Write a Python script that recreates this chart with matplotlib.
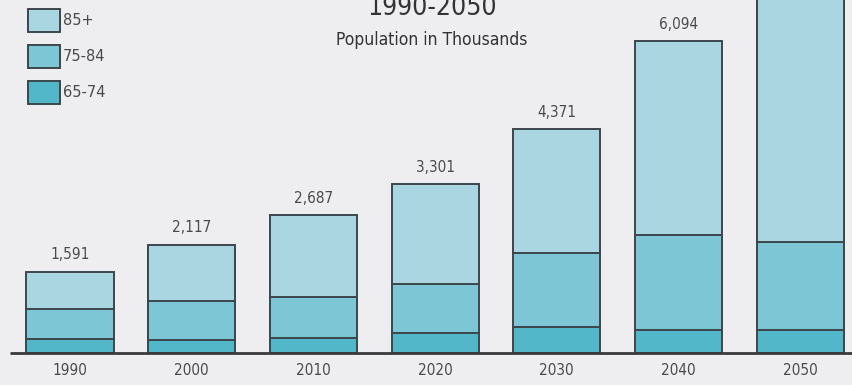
import matplotlib
matplotlib.use("Agg")
import matplotlib.pyplot as plt
from matplotlib.patches import Patch
import numpy as np

years = ["1990", "2000", "2010", "2020", "2030", "2040", "2050"]
age_65_74 = [273, 254, 293, 391, 508, 449, 449]
age_75_84 = [586, 762, 801, 957, 1445, 1855, 1719]
totals = [1591, 2117, 2687, 3301, 4371, 6094, 7700]
total_labels = ["1,591", "2,117", "2,687", "3,301", "4,371", "6,094", "7,700"]
age_85_plus = [t - a - b for t, a, b in zip(totals, age_65_74, age_75_84)]

title = "1990-2050"
subtitle = "Population in Thousands"
series_names = ["85+", "75-84", "65-74"]

col_85 = "#aad6e1"
col_75 = "#7cc6d6"
col_65 = "#52b7c9"
edge = "#3b474c"
bg = "#eeeef1"
txt = "#4a4a4a"

FONT = ["Liberation Sans Narrow", "DejaVu Sans"]
plt.rcParams["font.family"] = FONT

W, H = 852, 385
fig = plt.figure(figsize=(W / 100, H / 100), dpi=100, facecolor=bg)
base_px = 353  # baseline from top
ax = fig.add_axes([0, (H - base_px) / H, 1, base_px / H])
ax.set_facecolor(bg)

px_per_unit = 121.7
first_c = 70
ax.set_xlim(-first_c / px_per_unit, (W - first_c) / px_per_unit)
scale = 0.0512  # px per thousand
ymax = base_px / scale
ax.set_ylim(0, ymax)

x = np.arange(len(years))
w = 0.715
b1 = np.array(age_65_74)
b2 = b1 + np.array(age_75_84)
ax.bar(x, age_65_74, w, color=col_65, edgecolor=edge, linewidth=1.4, zorder=2)
ax.bar(x, age_75_84, w, bottom=b1, color=col_75, edgecolor=edge, linewidth=1.4, zorder=2)
ax.bar(x, age_85_plus, w, bottom=b2, color=col_85, edgecolor=edge, linewidth=1.4, zorder=2)

for xi, t, lab in zip(x, totals, total_labels):
    if t > ymax:
        continue  # label lies above the visible page, as in the source scan
    ax.annotate(lab, (xi, t), xytext=(0, 12.2), textcoords="offset points",
                ha="center", va="center", fontsize=11, color=txt,
                stretch="condensed", annotation_clip=False)

for xi, y in zip(x, years):
    ax.annotate(y, (xi, 0), xytext=(0, -12.5), textcoords="offset points",
                ha="center", va="center", fontsize=11, color=txt,
                stretch="condensed", annotation_clip=False)

ax.plot([-(first_c - 10) / px_per_unit, (W - first_c) / px_per_unit], [0, 0],
        color="#3a3a3a", lw=2, zorder=3, clip_on=False, solid_capstyle="butt")

for s in ax.spines.values():
    s.set_visible(False)
ax.set_xticks([])
ax.set_yticks([])

fig.text(432 / W, 1 - 8 / H, title, ha="center", va="center", fontsize=19,
         color="#333333", stretch="condensed")
fig.text(432 / W, 1 - 40 / H, subtitle, ha="center", va="center", fontsize=12.5,
         color="#333333", stretch="condensed")

handles = [Patch(facecolor=c, edgecolor=edge, linewidth=1.4) for c in (col_85, col_75, col_65)]
fs = 10.5
leg = fig.legend(handles, series_names, loc="upper left",
                 bbox_to_anchor=(28 / W, 1 - 9 / H), frameon=False,
                 fontsize=fs, handlelength=2.2, handleheight=2.1,
                 handletextpad=0.2, labelspacing=0.85, borderpad=0,
                 borderaxespad=0)
for t in leg.get_texts():
    t.set_color(txt)

fig.savefig("out.png", dpi=100, facecolor=bg)
